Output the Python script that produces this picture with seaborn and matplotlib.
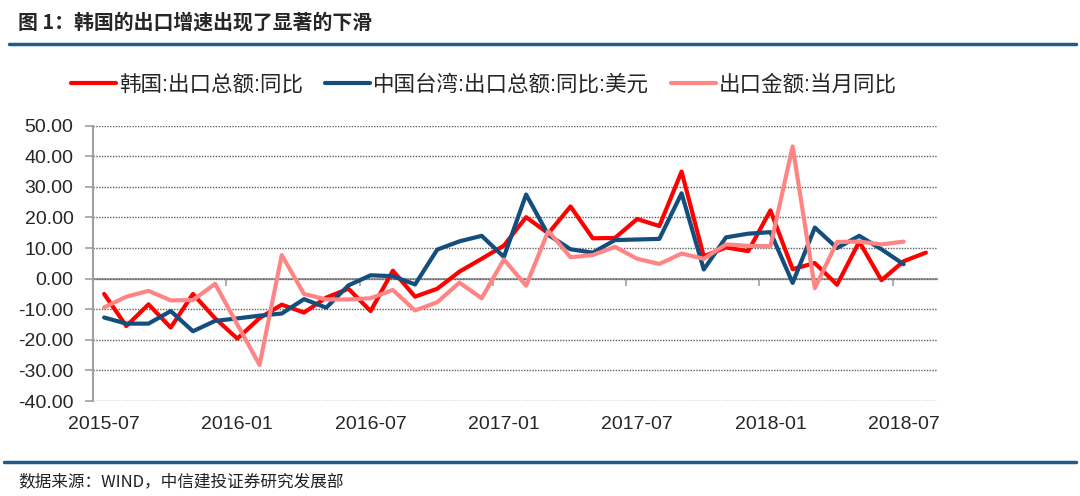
import numpy as np
import pandas as pd
import matplotlib.pyplot as plt
from matplotlib.lines import Line2D
import seaborn as sns

# months 2015-07 .. 2018-08
months = pd.date_range('2015-07-01', periods=38, freq='MS').strftime('%Y-%m').tolist()
tick_labels = ['2015-07', '2016-01', '2016-07', '2017-01', '2017-07', '2018-01', '2018-07']

korea = [-5.0, -15.5, -8.4, -16.0, -5.0, -13.0, -19.6, -12.9, -8.5, -11.1,
         -6.2, -3.3, -10.6, 2.6, -5.9, -3.3, 2.3, 6.5, 10.8, 20.1,
         14.8, 23.6, 13.2, 13.3, 19.5, 17.2, 35.0, 7.3, 10.2, 9.0,
         22.3, 3.1, 5.1, -2.0, 12.1, -0.5, 5.7, 8.5]
taiwan = [-12.7, -14.7, -14.7, -10.6, -17.2, -13.8, -13.0, -12.1, -11.4, -6.7,
          -9.5, -2.2, 1.1, 0.8, -1.9, 9.5, 12.2, 14.0, 7.1, 27.5,
          14.3, 9.6, 8.5, 12.6, 12.8, 13.0, 27.9, 3.0, 13.5, 14.7,
          15.2, -1.4, 16.7, 10.0, 14.0, 9.6, 4.7, np.nan]
china = [-9.4, -5.9, -4.0, -7.1, -7.0, -1.7, -15.0, -28.2, 7.7, -5.0,
         -6.8, -6.8, -6.4, -3.7, -10.4, -7.7, -1.3, -6.4, 6.3, -2.3,
         15.6, 7.0, 7.7, 10.4, 6.5, 4.8, 8.2, 6.5, 11.2, 10.7,
         10.6, 43.2, -3.1, 12.0, 12.1, 11.2, 12.1, np.nan]

names = ['韩国:出口总额:同比', '中国台湾:出口总额:同比:美元', '出口金额:当月同比']
colors = ['#FF0000', '#134E7C', '#FF8585']

idx = np.arange(len(months))
df = pd.concat([
    pd.DataFrame({'idx': idx, 'month': months, 'value': v, 'series': n})
    for v, n in zip([korea, taiwan, china], names)
]).dropna()

sns.set_style('white')
plt.rcParams['font.family'] = ['Liberation Sans', 'Noto Sans CJK SC', 'DejaVu Sans']

fig = plt.figure(figsize=(10.8, 4.96), dpi=100)
ax = fig.add_axes([93 / 1080, 1 - 401 / 496, (937 - 93) / 1080, 275.3 / 496])

sns.lineplot(data=df, x='idx', y='value', hue='series', hue_order=names,
             palette=colors, linewidth=3, errorbar=None, ax=ax)

ax.set_xlim(-0.5, len(months) - 0.5)
ax.set_ylim(-40, 50)
ax.set_yticks(np.arange(-40, 51, 10))
ax.set_yticklabels([f'{v:.2f}' for v in np.arange(-40, 51, 10)], fontsize=14)
ax.set_xticks([months.index(m) for m in tick_labels])
ax.set_xticklabels(tick_labels, fontsize=14)
ax.tick_params(axis='x', length=0, pad=11)
ax.tick_params(axis='y', length=6, width=1.2, color='#A0A0A0', direction='out', pad=8, left=True)
ax.set_xlabel('')
ax.set_ylabel('')

ax.grid(axis='y', linestyle=(0, (1, 1)), color='#606060', linewidth=1)
for s in ['top', 'right', 'bottom']:
    ax.spines[s].set_visible(False)
ax.spines['left'].set_color('#A0A0A0')
ax.spines['left'].set_linewidth(1.5)

# category axis at zero with tick marks between categories
sec = ax.secondary_xaxis(40 / 90)
sec.set_xticks([-0.5 + 6 * k for k in range(7)])
sec.set_xticklabels([])
sec.tick_params(length=5, width=1.2, color='#A0A0A0', direction='out')
sec.spines['bottom'].set_color('#A0A0A0')
sec.spines['bottom'].set_linewidth(1.5)

handles, labels = ax.get_legend_handles_labels()
ax.get_legend().remove()
fig.legend(handles, labels, loc='center', bbox_to_anchor=(484 / 1080, 1 - 85 / 496),
           ncol=3, frameon=False, fontsize=15.5, handlelength=2.1, columnspacing=1.0,
           handletextpad=0.15)

fig.text(18 / 1080, 1 - 22 / 496, '图 1：韩国的出口增速出现了显著的下滑',
         fontsize=14.3, fontweight='bold', va='center', ha='left',
         family=['Noto Sans CJK SC', 'DejaVu Sans'])
fig.add_artist(Line2D([0.008, 0.996], [1 - 44 / 496] * 2, transform=fig.transFigure,
                      color='#1F5C8B', linewidth=2.5))
fig.add_artist(Line2D([0.004, 0.996], [1 - 462 / 496] * 2, transform=fig.transFigure,
                      color='#1F5C8B', linewidth=2.5))
fig.text(18 / 1080, 1 - 482 / 496, '数据来源：WIND，中信建投证券研究发展部',
         fontsize=12, style='italic', va='center', ha='left', color='#222222',
         family=['Noto Sans CJK SC', 'DejaVu Sans'])

fig.savefig('out.png', dpi=100)
